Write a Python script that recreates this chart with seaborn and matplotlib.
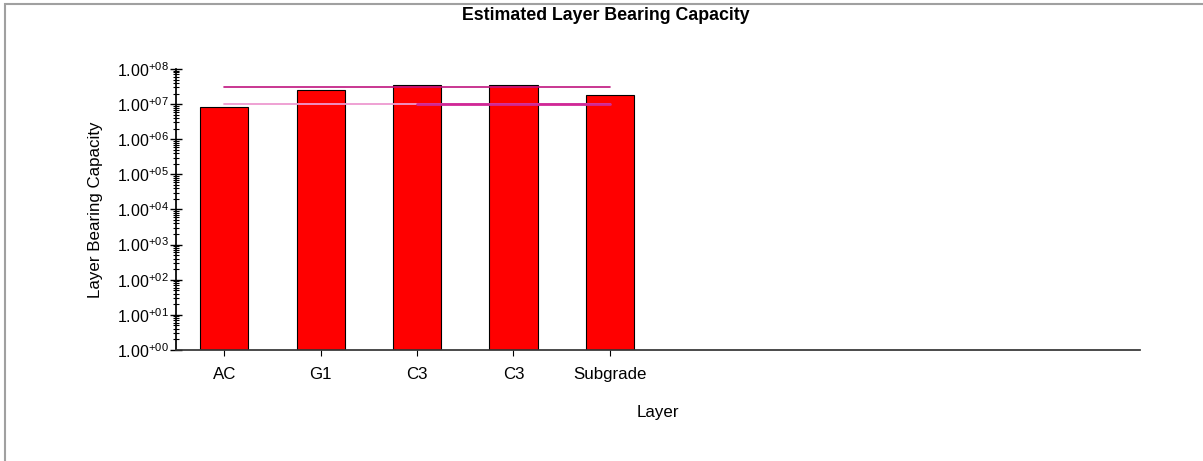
import math
import matplotlib.pyplot as plt
import seaborn as sns
from matplotlib.ticker import FixedLocator, FuncFormatter, LogLocator, NullFormatter
from matplotlib.patches import Rectangle

layers = ["AC", "G1", "C3", "C3", "Subgrade"]
capacity = [8.2e6, 2.5e7, 3.5e7, 3.5e7, 1.8e7]
upper_limit = [3.0e7, 3.0e7, 3.0e7, 3.0e7, 3.0e7]
lower_limit = [1.0e7, 1.0e7, 1.0e7, 1.0e7, 1.0e7]
lower_limit_b = [1.0e7, 1.0e7, 1.0e7]
n_slots = 10

sns.set_theme(style="white")
plt.rcParams["font.family"] = ["Liberation Sans", "DejaVu Sans"]
plt.rcParams["mathtext.default"] = "regular"
plt.rcParams["text.color"] = "black"
plt.rcParams["axes.labelcolor"] = "black"
plt.rcParams["xtick.color"] = "black"
plt.rcParams["ytick.color"] = "black"

fig = plt.figure(figsize=(12.03, 4.61), dpi=100)
ax = fig.add_axes([176 / 1203, 1 - 350 / 461, (1140 - 176) / 1203, (350 - 69) / 461])

pos = list(range(len(layers)))
sns.barplot(x=pos, y=capacity, color="#FF0000", saturation=1, width=0.5,
            edgecolor="black", linewidth=0.8, ax=ax)

ax.plot(pos, upper_limit, color="#C0147F", lw=1.2, zorder=3)
ax.plot(pos, lower_limit, color="#EE9AD0", lw=1.3, zorder=3)
ax.plot(pos[2:], lower_limit_b, color="#D02896", lw=2, zorder=4)

ax.set_yscale("log")
ax.set_ylim(1, 1e8)
ax.set_xlim(-0.5, n_slots - 0.5)


def sci_label(v, p):
    return rf"1.00$^{{+{int(round(math.log10(v))):02d}}}$"


ax.set_xticks(pos)
ax.set_xticklabels(layers, fontsize=12.2)
ax.yaxis.set_major_locator(FixedLocator([10.0 ** k for k in range(9)]))
ax.yaxis.set_major_formatter(FuncFormatter(sci_label))
ax.yaxis.set_minor_locator(LogLocator(base=10, subs=range(2, 10), numticks=20))
ax.yaxis.set_minor_formatter(NullFormatter())
ax.tick_params(axis="y", which="major", direction="inout", length=8, width=1, labelsize=11.5, pad=1, left=True)
ax.tick_params(axis="y", which="minor", direction="inout", length=5, width=0.8, left=True)
ax.tick_params(axis="x", direction="out", length=4, width=0.8, bottom=True, pad=8)

for s in ["top", "right"]:
    ax.spines[s].set_visible(False)
ax.spines["left"].set_color("black")
ax.spines["bottom"].set_color("#333333")
ax.grid(False)

ax.set_xlabel("Layer", fontsize=12.2, labelpad=17)
ax.set_ylabel("Layer Bearing Capacity", fontsize=12.2, labelpad=10)
fig.text(606 / 1203, 1 - 16 / 461, "Estimated Layer Bearing Capacity",
         ha="center", va="center", fontsize=12.8, fontweight="bold")

fig.patches.append(Rectangle((5 / 1203, -0.1), 1.2, 1 - 4 / 461 + 0.1,
                             transform=fig.transFigure, fill=False,
                             edgecolor="#A0A0A0", lw=1.5))

fig.savefig("out.png", dpi=100)
